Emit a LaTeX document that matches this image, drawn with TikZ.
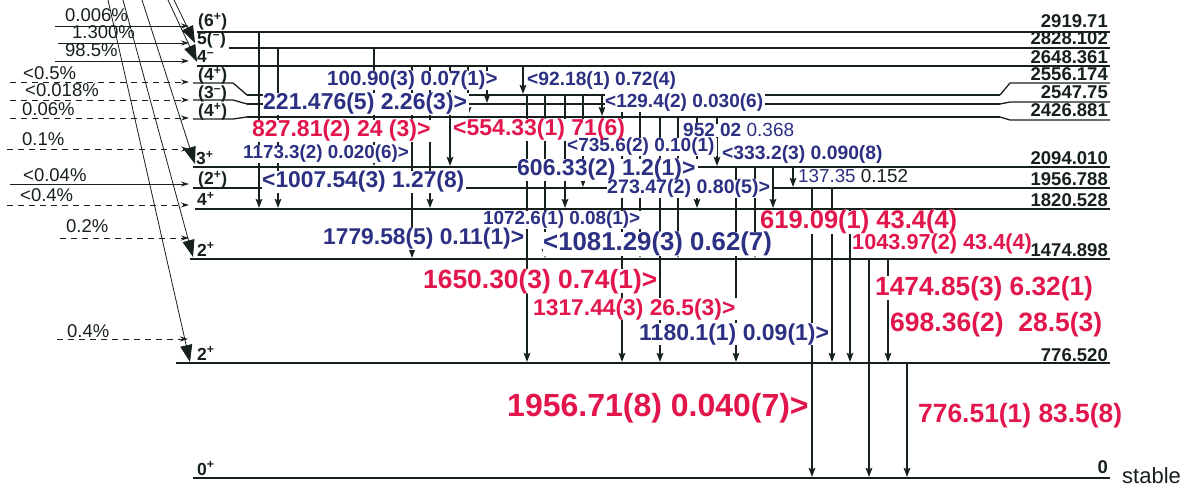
\documentclass[tikz,border=0pt]{standalone}
\usepackage{fontspec}
\setmainfont{Liberation Sans}
\usetikzlibrary{arrows.meta}
\definecolor{lc}{RGB}{22,32,28}
\definecolor{bl}{RGB}{44,48,130}
\definecolor{rd}{RGB}{226,22,76}
\newcommand\rg{\mdseries}
\newcommand\dk{\color{lc}}
\newcommand\lblh[6]{\node[lab,fill=white,inner xsep=1pt,inner ysep=0pt,text=white,font={\bfseries\fontsize{#4}{#4}\selectfont\let\rg\relax\let\dk\relax}] (#1h) at (#2,#3) {#6};}
\newcommand\lblt[6]{\node[lab,text=#5,font={\bfseries\fontsize{#4}{#4}\selectfont}] (#1) at (#2,#3) {#6};}
\newcommand\gammas[1]{%
#1{gA}{327}{86}{20.5}{bl}{100.90(3) 0.07(1)>}%
#1{gB}{527}{86}{19.2}{bl}{<92.18(1) 0.72(4)}%
#1{gC}{263}{110}{23}{bl}{221.476(5) 2.26(3)>}%
#1{gD}{605}{108}{19}{bl}{<129.4(2) 0.030(6)}%
#1{gE}{683}{137}{19}{bl}{952 02 {\rg 0.368}}%
#1{gF}{243}{159}{18.8}{bl}{1173.3(2) 0.020(6)>}%
#1{gG}{567}{152}{19}{bl}{<735.6(2) 0.10(1)}%
#1{gH}{722}{160}{19.3}{bl}{<333.2(3) 0.090(8)}%
#1{gI}{517}{176}{23}{bl}{606.33(2) 1.2(1)>}%
#1{gJ}{262}{188}{22.8}{bl}{<1007.54(3) 1.27(8)}%
#1{gK}{798}{183}{18.8}{bl}{{\rg 137.35 {\dk 0.152}}}%
#1{gL}{607}{194}{19.6}{bl}{273.47(2) 0.80(5)>}%
#1{gM}{483}{225}{18.9}{bl}{1072.6(1) 0.08(1)>}%
#1{gN}{323}{245}{22.8}{bl}{1779.58(5) 0.11(1)>}%
#1{gO}{543}{251}{25.8}{bl}{<1081.29(3) 0.62(7)}%
#1{gP}{639}{340}{23}{bl}{1180.1(1) 0.09(1)>}%
#1{rA}{252}{137}{23}{rd}{827.81(2) 24 (3)>}%
#1{rB}{453}{136}{23}{rd}{<554.33(1) 71(6)}%
#1{rC}{760}{229}{25.5}{rd}{619.09(1) 43.4(4)}%
#1{rD}{852}{250}{21.7}{rd}{1043.97(2) 43.4(4)}%
#1{rE}{423}{288}{26.4}{rd}{1650.30(3) 0.74(1)>}%
#1{rF}{875}{295}{26.3}{rd}{1474.85(3) 6.32(1)}%
#1{rG}{533}{315}{22.8}{rd}{1317.44(3) 26.5(3)>}%
#1{rH}{890}{331}{26.5}{rd}{698.36(2)~ 28.5(3)}%
#1{rI}{507}{416}{32}{rd}{1956.71(8) 0.040(7)>}%
#1{rJ}{918}{422}{26.4}{rd}{776.51(1) 83.5(8)}%
}
\begin{document}
\begin{tikzpicture}[x=1pt,y=-1pt,
  lab/.style={anchor=base west,inner sep=0pt},
  lv/.style={line width=2.4pt,draw=lc},
  lvs/.style={line width=1.3pt,draw=lc},
  lvt/.style={line width=2.9pt,draw=lc},
  tr/.style={line width=2pt,draw=lc,-{Stealth[length=9pt,width=6.5pt,inset=1.5pt]}},
  dg/.style={line width=0.8pt,draw=lc,-{Triangle[length=17pt,width=12pt]}},
  fd/.style={line width=0.9pt,draw=lc,-{Stealth[length=8pt,width=5pt]}},
  fdd/.style={fd,dash pattern=on 6pt off 5pt},
  spin/.style={anchor=base west,inner sep=0pt,text=lc,font={\bfseries\fontsize{17.5}{17.5}\selectfont}},
  en/.style={anchor=base east,inner sep=0pt,text=lc,font={\bfseries\fontsize{18.5}{18.5}\selectfont}},
  pc/.style={anchor=base west,inner sep=0pt,text=lc,font={\fontsize{18.5}{18.5}\selectfont}}]
\useasboundingbox (0,0) rectangle (1185,486);
\clip (0,0) rectangle (1185,486);
% levels
\draw[lv] (197,32) -- (1110,32);
\draw[lv] (229,48) -- (1110,48);
\draw[lv] (197,66) -- (1110,66);
\draw[lvs] (193,83) -- (233,83) -- (247,95);
\draw[lv] (247,95) -- (1000,95);
\draw[lvs] (1000,95) -- (1010,83) -- (1110,83);
\draw[lvs] (193,100) -- (233,100) -- (247,104);
\draw[lv] (247,104) -- (1000,104);
\draw[lvs] (1000,104) -- (1010,102) -- (1110,102);
\draw[lvs] (193,119) -- (233,119) -- (247,117);
\draw[lv] (247,117) -- (1000,117);
\draw[lvs] (1000,117) -- (1010,120) -- (1110,120);
\draw[lv] (193,167) -- (1110,167);
\draw[lv] (193,188) -- (1110,188);
\draw[lv] (195,209) -- (1110,209);
\draw[lv] (190,259) -- (1110,259);
\draw[lvt] (176,363) -- (1110,363);
\draw[lvt] (193,478) -- (1110,478);
% transitions
\foreach \x/\a/\b in {259/32/208, 278/48/208, 374/48/166, 412/66/258, 430/66/208,
  450/66/166, 468/66/116, 487/66/103, 523/66/94, 527/95/362, 545/95/258,
  565/95/208, 583/95/187, 602/95/116, 622/104/362, 640/104/258, 660/117/362,
  678/117/258, 697/117/208, 717/117/166, 736/167/362, 755/167/258, 773/167/208,
  793/167/187, 812/188/477, 832/188/362, 850/209/362, 869/259/477, 888/259/362,
  907/363/477}
  \draw[tr] (\x,\a) -- (\x,\b);
% feeding (diagonal)
\draw[dg] (174,0) -- (195,43);
\draw[dg] (168,0) -- (197,62);
\draw[dg] (142,0) -- (195,164);
\draw[dg] (123,0) -- (193,257);
\draw[dg] (108,0) -- (190,362);
% feeding (horizontal)
\draw[fd] (55,26) -- (189,26);
\draw[fd] (58,43) -- (189,43);
\draw[fd] (55,61) -- (189,61);
\draw[fdd] (10,82) -- (189,82);
\draw[fdd] (10,100) -- (189,100);
\draw[fdd] (10,118) -- (189,118);
\draw[fdd] (7,149) -- (189,149);
\draw[fd] (10,184) -- (189,184);
\draw[fdd] (7,205) -- (189,205);
\draw[fdd] (60,238) -- (189,238);
\draw[fdd] (57,339) -- (188,339);
% gamma labels
\gammas\lblh
\gammas\lblt
% spins
\node[spin] (s1) at (198,27) {(6\textsuperscript{+})};
\node[spin] (s2) at (197,45) {5(\textsuperscript{\textendash})};
\node[spin] (s3) at (197,63) {4\textsuperscript{\textendash}};
\node[spin] (s4) at (198,81) {(4\textsuperscript{+})};
\node[spin] (s5) at (198,99) {(3\textsuperscript{\textendash})};
\node[spin] (s6) at (198,117) {(4\textsuperscript{+})};
\node[spin] (s7) at (196,165) {3\textsuperscript{+}};
\node[spin] (s8) at (198,185) {(2\textsuperscript{+})};
\node[spin] (s9) at (197,206) {4\textsuperscript{+}};
\node[spin] (s10) at (197,256) {2\textsuperscript{+}};
\node[spin] (s11) at (197,360) {2\textsuperscript{+}};
\node[spin] (s12) at (197,475) {0\textsuperscript{+}};
% energies
\node[en] (e1) at (1108,28) {2919.71};
\node[en] (e2) at (1108,45) {2828.102};
\node[en] (e3) at (1108,64) {2648.361};
\node[en] (e4) at (1108,81) {2556.174};
\node[en] (e5) at (1108,99) {2547.75};
\node[en] (e6) at (1108,117) {2426.881};
\node[en] (e7) at (1108,165) {2094.010};
\node[en] (e8) at (1108,186) {1956.788};
\node[en] (e9) at (1108,207) {1820.528};
\node[en] (e10) at (1108,257) {1474.898};
\node[en] (e11) at (1108,361) {776.520};
\node[en] (e12) at (1108,473) {0};
\node[anchor=base west,inner sep=0pt,text=lc,font={\fontsize{22}{22}\selectfont}] (st) at (1122,483) {stable};
% percentages
\node[pc] (p1) at (65,22) {0.006\%};
\node[pc] (p2) at (72,39) {1.300\%};
\node[pc] (p3) at (65,57) {98.5\%};
\node[pc] (p4) at (23,80) {<0.5\%};
\node[pc] (p5) at (25,97) {<0.018\%};
\node[pc] (p6) at (22,116) {0.06\%};
\node[pc] (p7) at (22,146) {0.1\%};
\node[pc] (p8) at (23,182) {<0.04\%};
\node[pc] (p9) at (20,202) {<0.4\%};
\node[pc] (p10) at (66,233) {0.2\%};
\node[pc] (p11) at (67,337) {0.4\%};
\end{tikzpicture}
\end{document}
